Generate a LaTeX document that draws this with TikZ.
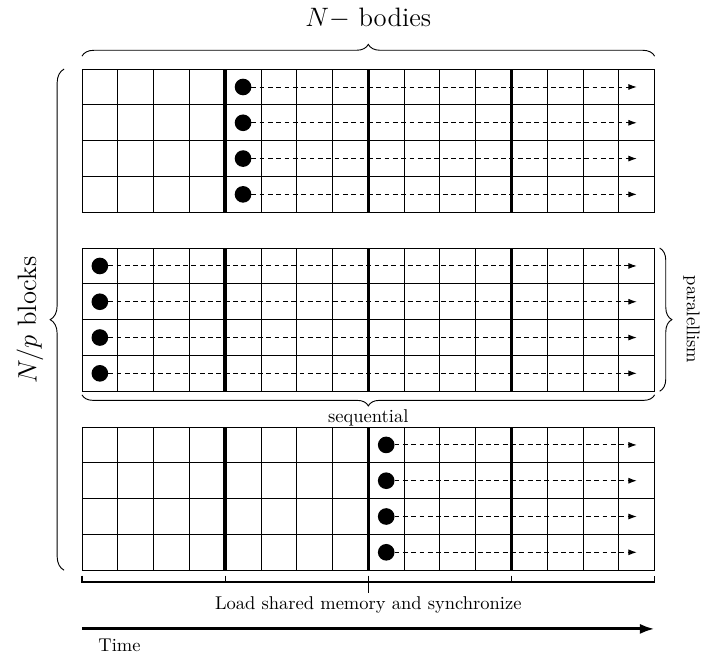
\documentclass[tikz,border=0pt]{standalone}
\usetikzlibrary{decorations.pathreplacing,arrows.meta}
\begin{document}
\begin{tikzpicture}[x=19.35pt,y=19.35pt,
  gridline/.style={line width=0.45pt},
  sync/.style={line width=1.9pt},
  dot/.style={circle,fill=black,inner sep=0pt,minimum size=9pt},
  flow/.style={dash pattern=on 2.6pt off 1.9pt,line width=0.5pt,-{Latex[length=4.5pt,width=3.2pt]}},
  brc/.style={decorate,line width=0.5pt},
  lbl/.style={inner sep=0pt}]
\useasboundingbox (-2.29,1.93) rectangle (17.63,-16.42);

\foreach \t/\c/\b in {0/4/a,-5/0/b,-10/8/c} {
  \foreach \i in {0,...,16} \draw[gridline] (\i,\t) -- (\i,\t-4);
  \foreach \j in {0,...,4} \draw[gridline] (0,\t-\j) -- (16,\t-\j);
  \foreach \k in {4,8,12} \draw[sync] (\k,\t) -- (\k,\t-4);
  \foreach \r in {1,...,4} {
    \node[dot] (\b\r) at (\c+0.5,\t-\r+0.5) {};
    \coordinate (\b e\r) at (15.5,\t-\r+0.5);
    \draw[flow] (\b\r.center) -- (\b e\r);
  }
}

% top brace
\coordinate (tb0) at (0,0.36);
\coordinate (tb1) at (16,0.36);
\draw[brc,decoration={brace,amplitude=6.4pt}] (tb0) -- (tb1);
\node[lbl,font=\Large] (nbodies) at (8,1.42) {$N-$\ bodies};

% left brace
\coordinate (lb0) at (-0.5,-14);
\coordinate (lb1) at (-0.5,0);
\draw[brc,decoration={brace,amplitude=7.5pt}] (lb0) -- (lb1);
\node[lbl,font=\Large,rotate=90] (nblocks) at (-1.45,-7) {$N/p$ blocks};

% right brace
\coordinate (rb0) at (16.14,-5);
\coordinate (rb1) at (16.14,-9);
\draw[brc,decoration={brace,amplitude=6.6pt}] (rb0) -- (rb1);
\node[lbl,rotate=-90] (par) at (17.03,-7) {paralellism};

% sequential brace
\coordinate (sb0) at (16,-9.1);
\coordinate (sb1) at (0,-9.1);
\draw[brc,decoration={brace,amplitude=6pt}] (sb0) -- (sb1);
\node[lbl] (seq) at (8,-9.74) {sequential};

% bottom bracket
\coordinate (k0t) at (0,-14.15);
\coordinate (k0b) at (0,-14.33);
\coordinate (k4t) at (16,-14.15);
\coordinate (k4b) at (16,-14.33);
\draw[line width=0.6pt] (k0t) -- (k0b) -- (k4b) -- (k4t);
\foreach \k in {4,12} {
  \coordinate (kt\k) at (\k,-14.15);
  \coordinate (kb\k) at (\k,-14.33);
  \draw[line width=0.6pt] (kt\k) -- (kb\k);
}
\coordinate (kt8) at (8,-14.15);
\coordinate (kb8) at (8,-14.65);
\draw[line width=0.6pt] (kt8) -- (kb8);
\node[lbl] (load) at (8,-14.97) {Load shared memory and synchronize};

% time arrow
\coordinate (ta0) at (0,-15.64);
\coordinate (ta1) at (16,-15.64);
\draw[line width=1.6pt,-{Latex[length=8pt,width=5.5pt]}] (ta0) -- (ta1);
\node[lbl] (time) at (1.05,-16.09) {Time};
\end{tikzpicture}
\end{document}
